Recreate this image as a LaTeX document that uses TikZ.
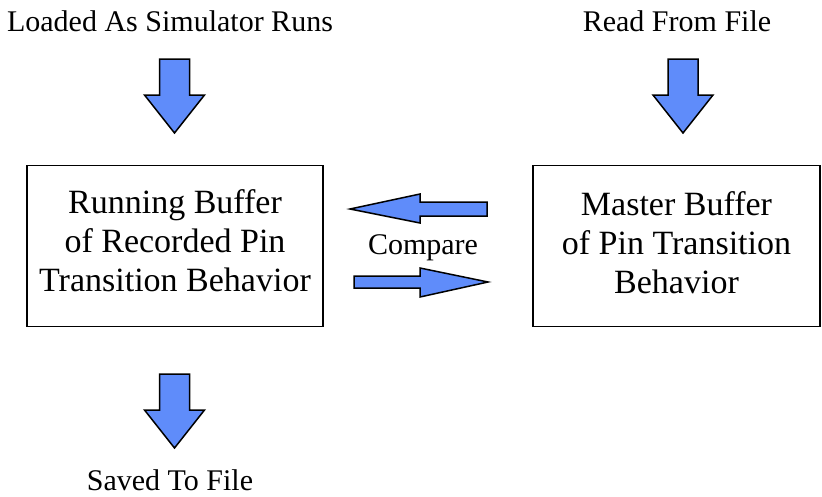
\documentclass[tikz,border=0pt]{standalone}
\usepackage{fontspec}
\setmainfont{Liberation Serif}
\usepackage{tikz}
\definecolor{arrowblue}{RGB}{95,140,250}

\tikzset{
  buffer/.style={draw,line width=1.5pt,align=center,inner sep=0pt,
    font=\rmfamily\fontsize{34}{39}\selectfont,text depth=0pt},
  blockarrow/.style={draw,line width=1.5pt,fill=arrowblue,line join=miter},
  caption/.style={font=\rmfamily\fontsize{30}{34}\selectfont,inner sep=0pt,anchor=base}
}

\begin{document}
\begin{tikzpicture}[x=1pt,y=-1pt]
\useasboundingbox (0,0) rectangle (822,496);
%buffers
\node[buffer,minimum width=296pt,minimum height=161pt,text height=90pt] (running) at (175,246)
  {Running Buffer\\of Recorded Pin\\Transition Behavior};
\node[buffer,minimum width=287pt,minimum height=161pt,text height=94pt] (master) at (676.5,246)
  {Master Buffer\\of Pin Transition\\Behavior};
%captions
\node[caption] (loaded) at (170,31) {Loaded As Simulator Runs};
\node[caption] (readfile) at (677,31) {Read From File};
\node[caption] (savedfile) at (170,490) {Saved To File};
\node[caption] (compare) at (423,254) {Compare};
%down arrows
\foreach \cx/\ty in {174.5/59,683/59,174.5/374}
  \draw[blockarrow] (\cx-15,\ty) -- (\cx+15,\ty) -- (\cx+15,\ty+36)
    -- (\cx+30,\ty+36) -- (\cx,\ty+74) -- (\cx-30,\ty+36)
    -- (\cx-15,\ty+36) -- cycle;
%compare arrows
\draw[blockarrow] (487,202) -- (420,202) -- (420,194) -- (350,209)
  -- (420,223) -- (420,216) -- (487,216) -- cycle;
\draw[blockarrow] (354,276) -- (420,276) -- (420,268) -- (488,282)
  -- (420,297) -- (420,288) -- (354,288) -- cycle;
\end{tikzpicture}
\end{document}
